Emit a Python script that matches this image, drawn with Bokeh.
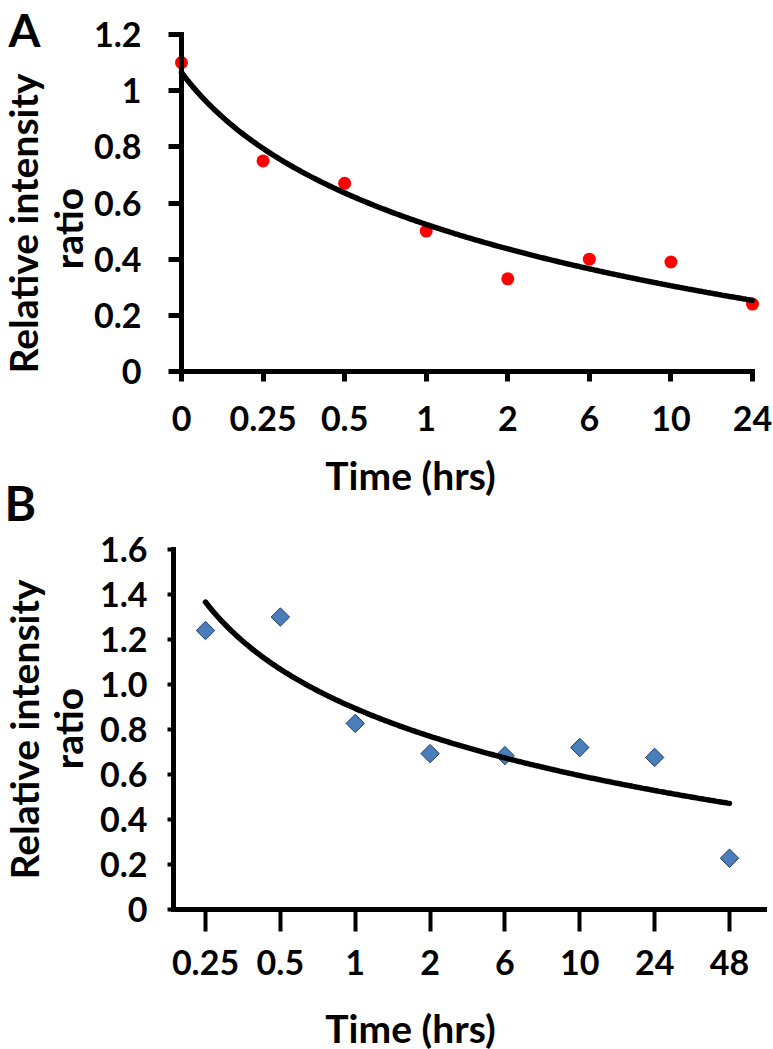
import numpy as np
from bokeh.plotting import figure
from bokeh.models import Range1d, FixedTicker, Label, LinearAxis
from bokeh.embed import file_html
from bokeh.resources import INLINE

# ---- data ----
a_times = ["0", "0.25", "0.5", "1", "2", "6", "10", "24"]
a_values = [1.10, 0.75, 0.67, 0.50, 0.33, 0.40, 0.39, 0.24]
b_times = ["0.25", "0.5", "1", "2", "6", "10", "24", "48"]
b_values = [1.24, 1.30, 0.827, 0.693, 0.684, 0.72, 0.676, 0.228]
a_yticks = [0, 0.2, 0.4, 0.6, 0.8, 1.0, 1.2]
a_ylabels = ["0", "0.2", "0.4", "0.6", "0.8", "1", "1.2"]
b_yticks = [0, 0.2, 0.4, 0.6, 0.8, 1.0, 1.2, 1.4, 1.6]
b_ylabels = ["0", "0.2", "0.4", "0.6", "0.8", "1.0", "1.2", "1.4", "1.6"]
x_title = "Time (hrs)"
y_title_1 = "Relative intensity"
y_title_2 = "ratio"

FONT = "Lato"
TICK_SIZE = "34px"
TITLE_SIZE = "39px"
W, H = 773, 1049

# ---- layout geometry (pixels from top-left) ----
A_X0, A_X7 = 181, 752          # first / last category position, panel A
A_Y0, A_YTOP = 371, 34         # y = 0 and y = 1.2, panel A
B_X0, B_X7 = 205, 729          # first / last category position, panel B
B_Y0, B_YTOP = 909, 549        # y = 0 and y = 1.6, panel B
B_LEFT, B_RIGHT = 173, 764     # extent of panel B x axis

axp = (A_X7 - A_X0) / 7.0
ayp = (A_Y0 - A_YTOP) / 1.2
bxp = (B_X7 - B_X0) / 7.0
byp = (B_Y0 - B_YTOP) / 1.6

p = figure(width=W, height=H,
           x_range=Range1d(-A_X0 / axp, 7 + (W - A_X7) / axp),
           y_range=Range1d((A_Y0 - H) / ayp, A_Y0 / ayp),
           x_axis_location=None, y_axis_location=None,
           min_border=0, output_backend="svg", toolbar_location=None)
p.extra_x_ranges = {"b": Range1d(-B_X0 / bxp, 7 + (W - B_X7) / bxp)}
p.extra_y_ranges = {"b": Range1d((B_Y0 - H) / byp, B_Y0 / byp)}
p.outline_line_color = None
p.grid.visible = False


def make_axis(ticks, overrides, tick_out, standoff, lw, tw, **kw):
    ax = LinearAxis(ticker=FixedTicker(ticks=ticks), major_label_overrides=overrides, **kw)
    ax.axis_line_width = lw
    ax.axis_line_color = "black"
    ax.axis_line_cap = "square"
    ax.major_tick_line_color = "black"
    ax.major_tick_line_width = tw
    ax.major_tick_in = 0
    ax.major_tick_out = tick_out
    ax.minor_tick_line_color = None
    ax.major_label_standoff = standoff
    ax.major_label_text_font = FONT
    ax.major_label_text_font_style = "bold"
    ax.major_label_text_font_size = TICK_SIZE
    ax.major_label_text_color = "black"
    return ax


# ---- Panel A axes ----
ya = make_axis(a_yticks, {v: s for v, s in zip(a_yticks, a_ylabels)}, 13, 27, 5, 5,
               bounds=(0, 1.2), fixed_location=0)
p.add_layout(ya, "left")
xa_ticks = list(range(len(a_times)))
xa = make_axis(xa_ticks, {i: s for i, s in enumerate(a_times)}, 10, 24, 5, 5,
               bounds=(0, 7), fixed_location=0)
p.add_layout(xa, "below")

# ---- Panel B axes ----
b_left = (B_LEFT - B_X0) / bxp
b_right = 7 + (B_RIGHT - B_X7) / bxp
yb = make_axis(b_yticks, {v: s for v, s in zip(b_yticks, b_ylabels)}, 6, 20, 5, 4,
               bounds=(0, 1.6), fixed_location=b_left, x_range_name="b", y_range_name="b")
p.add_layout(yb, "left")
xb_ticks = list(range(len(b_times)))
xb = make_axis(xb_ticks, {i: s for i, s in enumerate(b_times)}, 22, 18, 5, 4,
               bounds=(b_left, b_right), fixed_location=0, x_range_name="b", y_range_name="b")
p.add_layout(xb, "below")

# ---- Panel A data ----
p.scatter(xa_ticks, a_values, marker="circle", size=13, fill_color="#FF0000", line_color=None)
n = np.arange(1, len(a_values) + 1)
sa, ia = np.polyfit(np.log(n), np.asarray(a_values, float), 1)
ta = np.linspace(0, len(a_values) - 1, 300)
p.line(ta, ia + sa * np.log(ta + 1), line_width=5.5, color="black", line_cap="round")

# ---- Panel B data ----
p.scatter(xb_ticks, b_values, marker="square", size=13, angle=np.pi / 4,
          fill_color="#4A7EBB", line_color="#1F3A5F", line_width=1,
          x_range_name="b", y_range_name="b")
n = np.arange(1, len(b_values) + 1)
sb, ib = np.polyfit(np.log(n), np.asarray(b_values, float), 1)
tb = np.linspace(0, len(b_values) - 1, 300)
p.line(tb, ib + sb * np.log(tb + 1), line_width=5.5, color="black", line_cap="round",
       x_range_name="b", y_range_name="b")


# ---- texts (positioned in pixels, converted to panel A data units) ----
def text(px, py, s, size, angle=0.0, align="center", baseline="alphabetic"):
    p.add_layout(Label(x=(px - A_X0) / axp, y=(A_Y0 - py) / ayp, text=s,
                       text_font=FONT, text_font_style="bold", text_font_size=size,
                       angle=angle, text_align=align, text_baseline=baseline,
                       text_color="black"))


text(410, 474, x_title, TITLE_SIZE)
text(22, 223, y_title_1, TITLE_SIZE, angle=np.pi / 2, baseline="middle")
text(67, 228, y_title_2, TITLE_SIZE, angle=np.pi / 2, baseline="middle")
text(8, 29, "A", "46px", align="left")

text(410, 1027, x_title, TITLE_SIZE)
text(23, 729, y_title_1, TITLE_SIZE, angle=np.pi / 2, baseline="middle")
text(67, 728, y_title_2, TITLE_SIZE, angle=np.pi / 2, baseline="middle")
text(4, 502, "B", "48px", align="left")

open("out.html", "w").write(file_html(p, INLINE))
